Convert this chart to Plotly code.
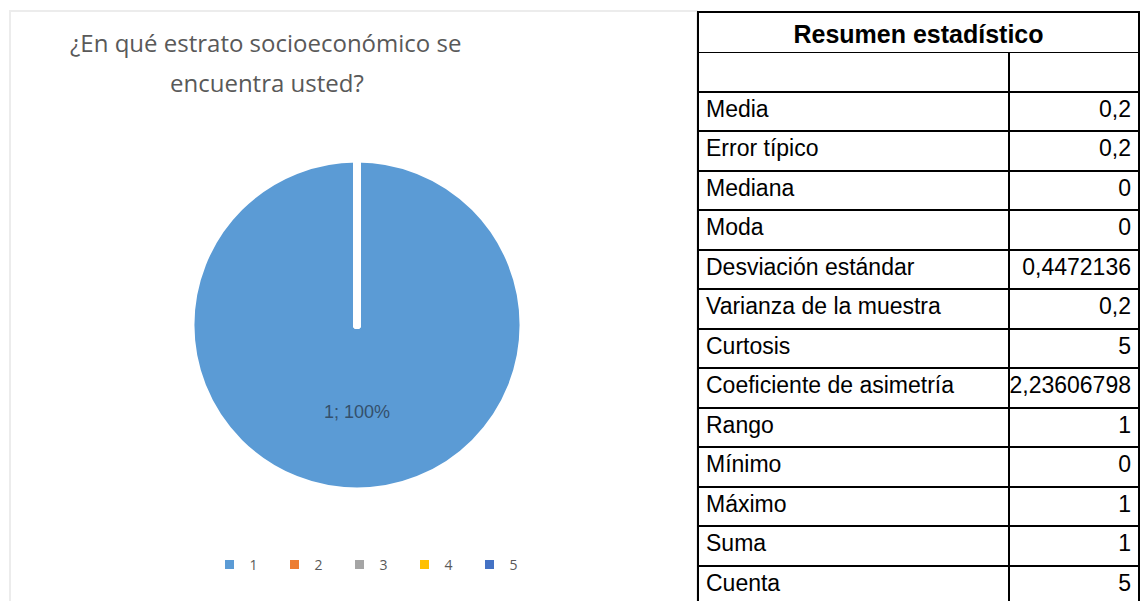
import plotly.graph_objects as go

# ---- data ----
estratos = ["1", "2", "3", "4", "5"]
conteos = [5, 0, 0, 0, 0]
colores = ["#5B9BD5", "#ED7D31", "#A5A5A5", "#FFC000", "#4472C4"]

titulo_l1 = "¿En qué estrato socioeconómico se"
titulo_l2 = "encuentra usted?"

tabla_titulo = "Resumen estadístico"
estadisticos = ["", "Media", "Error típico", "Mediana", "Moda", "Desviación estándar",
                "Varianza de la muestra", "Curtosis", "Coeficiente de asimetría",
                "Rango", "Mínimo", "Máximo", "Suma", "Cuenta"]
valores = ["", "0,2", "0,2", "0", "0", "0,4472136", "0,2", "5", "2,23606798",
           "1", "0", "1", "1", "5"]

# page has an 8px body margin; figure fills the rest of the 1148x601 window
OFF = 8
W, H = 1148 - OFF, 601 - OFF


def px(x):
    return (x - OFF) / W


def py(y):
    return 1 - (y - OFF) / H


total = sum(conteos)
pct = round(100 * conteos[0] / total)

cx, cy, r = 357, 325, 164
pie_domain = dict(x=[px(cx - r), px(cx + r)], y=[py(cy + r), py(cy - r)])

fig = go.Figure()

# coloured pie (gives the legend)
fig.add_trace(go.Pie(
    labels=estratos, values=conteos, sort=False, direction="clockwise", rotation=0,
    marker=dict(colors=colores, line=dict(color="white", width=3)),
    textinfo="none", hoverinfo="label+percent",
    domain=pie_domain, showlegend=True,
))
# transparent overlay drawing the white slice borders
fig.add_trace(go.Pie(
    labels=estratos, values=conteos, sort=False, direction="clockwise", rotation=0,
    marker=dict(colors=["rgba(0,0,0,0)"] * len(estratos),
                line=dict(color="white", width=[0, 8, 8, 8, 8])),
    textinfo="none", hoverinfo="skip",
    domain=pie_domain, showlegend=False,
))

fig.add_annotation(x=px(357), y=py(412), xref="paper", yref="paper",
                   xanchor="center", yanchor="middle",
                   text=f"{estratos[0]}; {pct}%", showarrow=False,
                   font=dict(family="Liberation Sans", size=18, color="#34506c"))

fig.add_annotation(x=px(265), y=py(43), xref="paper", yref="paper", text=titulo_l1,
                   showarrow=False, xanchor="center", yanchor="middle",
                   font=dict(family="Open Sans", size=24, color="#595959"))
fig.add_annotation(x=px(267), y=py(82), xref="paper", yref="paper", text=titulo_l2,
                   showarrow=False, xanchor="center", yanchor="middle",
                   font=dict(family="Open Sans", size=24, color="#595959"))

tx0, tx1 = px(698), px(1139)
tabla_font = dict(family="Liberation Sans", size=23, color="black")
EMPTY_HEADER = 16  # height plotly gives to a table without header values

# body table first (its empty header strip is hidden under the title table)
fig.add_trace(go.Table(
    domain=dict(x=[tx0, tx1], y=[0, py(52 - EMPTY_HEADER)]),
    columnwidth=[311, 130],
    header=dict(fill=dict(color="white"), line=dict(color="white", width=0)),
    cells=dict(values=[estadisticos, valores], height=39.5, align=["left", "right"],
               fill=dict(color="white"), line=dict(color="black", width=2),
               font=tabla_font),
))
fig.add_trace(go.Table(
    domain=dict(x=[tx0, tx1], y=[py(52), py(12)]),
    columnwidth=[1],
    header=dict(values=[f"<b>{tabla_titulo}</b>"], height=40, align="center",
                fill=dict(color="white"), line=dict(color="black", width=2),
                font=dict(family="Liberation Sans", size=25, color="black")),
    cells=dict(values=[[]]),
))

fig.add_shape(type="rect", xref="paper", yref="paper", x0=px(10), x1=px(697),
              y0=-0.05, y1=py(11), line=dict(color="#ececec", width=2), layer="below")

fig.update_layout(
    width=W, height=H, margin=dict(l=0, r=0, t=0, b=0),
    paper_bgcolor="white", plot_bgcolor="white",
    legend=dict(orientation="h", x=px(372), xanchor="center", y=py(565), yanchor="middle",
                entrywidth=20, font=dict(family="Open Sans", size=14, color="#595959")),
)

fig.write_html("out.html")
